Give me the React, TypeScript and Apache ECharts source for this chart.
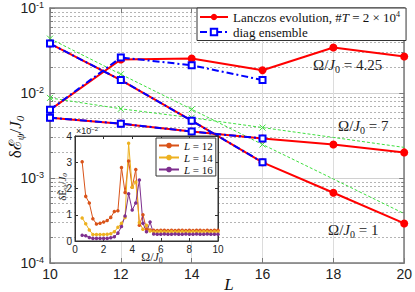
import React, { useEffect, useRef } from 'react';
import * as echarts from 'echarts';

// ---------- main plot data ----------
const sizesL = [10, 12, 14, 16, 18, 20];
const sizesDiag = [10, 12, 14, 16];
const lanczosW425 = [0.00634, 0.0248, 0.0255, 0.0185, 0.0343, 0.0269];
const lanczosW7 = [0.00512, 0.00436, 0.00352, 0.00292, 0.00248, 0.002];
const lanczosW1 = [0.0381, 0.0142, 0.00472, 0.00153, 0.00067, 0.000292];
const diagW425 = [0.00634, 0.0262, 0.0212, 0.0142];
const diagW7 = [0.00512, 0.00436, 0.00352, 0.00292];
const diagW1 = [0.0381, 0.0142, 0.00472, 0.00153];
const fitSteep = [0.0436, 0.0166, 0.00643, 0.00248, 0.000973, 0.000381];
const fitShallow = [0.00875, 0.00652, 0.00512, 0.00392, 0.003, 0.00229];
const fitMarked = [true, true, true, true, false, false];

// ---------- inset data (units of 1e-2) ----------
const omega = [
  0.5, 0.75, 1, 1.25, 1.5, 1.75, 2, 2.25, 2.5, 2.75, 3, 3.25, 3.5, 3.75, 4, 4.25,
  4.5, 4.75, 5, 5.25, 5.5, 5.75, 6, 6.25, 6.5, 6.75, 7, 7.25, 7.5, 7.75, 8, 8.25,
  8.5, 8.75, 9, 9.25, 9.5, 9.75, 10,
];
const insetL12 = [
  3.02, 1.7, 1.45, 0.85, 0.65, 0.68, 0.72, 0.78, 0.9, 1.12, 1.15, 2.8, 1.85, 3.05, 2.05, 2.72,
  0.6, 1.0, 0.45, 0.42, 0.41, 0.4, 0.41, 0.41, 0.4, 0.41, 0.4, 0.41, 0.41, 0.4, 0.41, 0.4,
  0.41, 0.41, 0.4, 0.41, 0.4, 0.41, 0.41,
];
const insetL14 = [
  0.88, 0.66, 0.42, 0.25, 0.25, 0.25, 0.25, 0.26, 0.28, 0.35, 0.52, 0.68, 0.9, 3.72, 2.05, 2.25,
  0.7, 0.45, 0.6, 0.38, 0.35, 0.35, 0.36, 0.35, 0.35, 0.36, 0.35, 0.35, 0.36, 0.35, 0.35, 0.36,
  0.35, 0.35, 0.36, 0.35, 0.35, 0.36, 0.35,
];
const insetL16 = [
  0.22, 0.2, 0.13, 0.1, 0.1, 0.1, 0.1, 0.1, 0.12, 0.16, 0.3, 0.55, 0.95, 1.8, 1.18, 1.45,
  2.32, 0.68, 0.35, 0.72, 0.27, 0.26, 0.26, 0.27, 0.26, 0.26, 0.27, 0.26, 0.26, 0.27, 0.26, 0.26,
  0.27, 0.26, 0.26, 0.27, 0.26, 0.26, 0.26,
];

const LZ = 'Lanczos evolution, #T = 2 × 10^4';
const DG = 'diag ensemble';
const RED = '#ff0000';
const BLUE = '#0000ff';
const GREEN = '#3fe03f';
const C12 = '#d95319';
const C14 = '#edb120';
const C16 = '#7e2f8e';
const AX = '#7a7a7a';
const SERIF = '"Liberation Serif", "DejaVu Serif", serif';
const SANS = '"Liberation Sans", Arial, sans-serif';
const BLUE_DASH = [7, 3, 2, 3];

const pairs = (xs: number[], ys: number[]) => xs.map((x, i) => [x, ys[i]]);

function buildOption(): any {
  const redSeries = (data: number[]) => ({
    type: 'line', name: LZ, xAxisIndex: 0, yAxisIndex: 0, z: 3,
    data: pairs(sizesL, data),
    color: RED, lineStyle: { width: 2, color: RED },
    symbol: 'circle', symbolSize: 8, itemStyle: { color: RED },
  });
  const blueSeries = (data: number[]) => ({
    type: 'line', name: DG, xAxisIndex: 0, yAxisIndex: 0, z: 4,
    data: pairs(sizesDiag, data),
    color: BLUE, lineStyle: { width: 2, color: BLUE, type: BLUE_DASH },
    symbol: 'emptyRect', symbolSize: 6, itemStyle: { color: BLUE, borderColor: BLUE, borderWidth: 1.5 },
  });
  const greenSeries = (data: number[]) => ({
    type: 'line', xAxisIndex: 0, yAxisIndex: 0, z: 2,
    data: sizesL.map((x, i) => ({ value: [x, data[i]], symbol: fitMarked[i] ? 'path://M0,0L10,10M10,0L0,10' : 'none' })),
    lineStyle: { width: 1, color: GREEN, type: [3, 2] },
    symbolSize: 6, itemStyle: { color: 'none', borderColor: GREEN, borderWidth: 1 },
  });
  const insetSeries = (name: string, data: number[], color: string) => ({
    type: 'line', name, xAxisIndex: 2, yAxisIndex: 2, z: 12,
    data: pairs(omega, data),
    color, lineStyle: { width: 1, color },
    symbol: 'circle', symbolSize: 3.5, itemStyle: { color },
  });

  const axisCommon = {
    axisLine: { show: true, onZero: false, lineStyle: { color: AX, width: 1.5 } },
    axisTick: { show: true, inside: true, length: 5, lineStyle: { color: AX } },
  };
  const logMinor = {
    minorTick: { show: true, splitNumber: 9, length: 3, lineStyle: { color: AX } },
  };
  const insetAxis = {
    z: 9,
    axisLine: { show: true, onZero: false, lineStyle: { color: '#333', width: 1 } },
    axisTick: { show: true, inside: true, length: 3, lineStyle: { color: '#333' } },
    splitLine: { show: false },
  };

  return {
    animation: false,
    backgroundColor: '#fff',
    grid: [
      { left: 50, top: 5, width: 358, height: 258, show: false },
      { left: 75, top: 136, width: 143, height: 105, show: true, backgroundColor: '#fff', borderColor: '#333', borderWidth: 1, z: 8 },
    ],
    xAxis: [
      {
        type: 'value', gridIndex: 0, min: 10, max: 20, interval: 2, position: 'bottom', ...axisCommon,
        axisLabel: { color: '#222', fontFamily: SANS, fontSize: 14, margin: 4 },
        splitLine: { show: true, lineStyle: { color: '#dcdcdc', width: 1 } },
      },
      {
        type: 'value', gridIndex: 0, min: 10, max: 20, interval: 2, position: 'top', ...axisCommon,
        axisLabel: { show: false }, splitLine: { show: false },
      },
      {
        type: 'value', gridIndex: 1, min: 0, max: 10, interval: 2, position: 'bottom', ...insetAxis,
        axisLabel: { color: '#222', fontFamily: SANS, fontSize: 10, margin: 3 },
      },
      {
        type: 'value', gridIndex: 1, min: 0, max: 10, interval: 2, position: 'top', ...insetAxis,
        axisLabel: { show: false },
      },
    ],
    yAxis: [
      {
        type: 'log', logBase: 10, gridIndex: 0, min: 0.0001, max: 0.1, position: 'left', ...axisCommon, ...logMinor,
        axisLabel: {
          margin: 6,
          formatter: (v: number) => `{b|10}{e|${Math.round(Math.log10(v))}}`,
          rich: {
            b: { fontFamily: SANS, fontSize: 14, color: '#222', lineHeight: 16 },
            e: { fontFamily: SANS, fontSize: 9, color: '#222', lineHeight: 9, verticalAlign: 'top' },
          },
        },
        splitLine: { show: true, lineStyle: { color: '#d0d0d0', width: 1 } },
        minorSplitLine: { show: true, lineStyle: { color: '#b4b4b4', type: [2, 2], width: 1 } },
      },
      {
        type: 'log', logBase: 10, gridIndex: 0, min: 0.0001, max: 0.1, position: 'right', ...axisCommon, ...logMinor,
        axisLabel: { show: false }, splitLine: { show: false },
      },
      {
        type: 'value', gridIndex: 1, min: 0, max: 4, interval: 1, position: 'left', ...insetAxis,
        axisLabel: { color: '#222', fontFamily: SANS, fontSize: 10, margin: 3 },
      },
      {
        type: 'value', gridIndex: 1, min: 0, max: 4, interval: 1, position: 'right', ...insetAxis,
        axisLabel: { show: false },
      },
    ],
    legend: [
      {
        data: [
          { name: LZ },
          { name: DG, lineStyle: { type: BLUE_DASH, width: 2 } },
        ],
        orient: 'vertical', left: 197, top: 8, z: 6,
        backgroundColor: '#fff', borderColor: '#333', borderWidth: 1, padding: [2, 6, 2, 2],
        itemGap: 2, itemWidth: 28, itemHeight: 8,
        formatter: (n: string) => (n === LZ ? '{n|Lanczos evolution, #}{t|T}{n| = 2 × 10}{s|4}' : `{n|${n}}`),
        textStyle: {
          rich: {
            n: { fontFamily: SERIF, fontSize: 13, color: '#111', lineHeight: 14 },
            t: { fontFamily: SERIF, fontSize: 13, color: '#111', fontStyle: 'italic', lineHeight: 14 },
            s: { fontFamily: SERIF, fontSize: 8, color: '#111', lineHeight: 8, verticalAlign: 'top' },
          },
        },
      },
      {
        data: ['L = 12', 'L = 14', 'L = 16'], orient: 'vertical', left: 156, top: 138, z: 14,
        backgroundColor: '#fff', borderColor: '#333', borderWidth: 1, padding: [2, 3, 1, 2],
        itemGap: 1, itemWidth: 20, itemHeight: 7,
        formatter: (n: string) => `{i|L}{n|${n.slice(1)}}`,
        textStyle: {
          rich: {
            i: { fontFamily: SERIF, fontSize: 11, fontStyle: 'italic', color: '#111', lineHeight: 11 },
            n: { fontFamily: SERIF, fontSize: 11, color: '#111', lineHeight: 11 },
          },
        },
      },
    ],
    series: [
      greenSeries(fitSteep),
      greenSeries(fitShallow),
      redSeries(lanczosW425),
      redSeries(lanczosW7),
      redSeries(lanczosW1),
      blueSeries(diagW425),
      blueSeries(diagW7),
      blueSeries(diagW1),
      insetSeries('L = 12', insetL12, C12),
      insetSeries('L = 14', insetL14, C14),
      insetSeries('L = 16', insetL16, C16),
    ],
    graphic: [
      {
        type: 'text', x: 15, y: 137, rotation: Math.PI / 2, z: 20,
        style: {
          text: '{a|δℰ}{s|ψ}{a|/}{j|J}{s|0}', align: 'center', verticalAlign: 'middle',
          rich: {
            a: { fontFamily: SERIF, fontSize: 17, fill: '#111', lineHeight: 20 },
            j: { fontFamily: SERIF, fontSize: 17, fontStyle: 'italic', fill: '#111', lineHeight: 20 },
            s: { fontFamily: SERIF, fontSize: 11, fontStyle: 'italic', fill: '#111', lineHeight: 12, verticalAlign: 'bottom' },
          },
        },
      },
      {
        type: 'text', x: 229, y: 284, z: 20,
        style: { text: 'L', fontFamily: SERIF, fontSize: 17, fontStyle: 'italic', fill: '#111', align: 'center', verticalAlign: 'middle' },
      },
      ...[
        { x: 313, y: 65, v: '4.25' },
        { x: 338, y: 126, v: '7' },
        { x: 328, y: 230, v: '1' },
      ].map((a) => ({
        type: 'text', x: a.x, y: a.y, z: 20,
        style: {
          text: `{a|Ω/}{j|J}{s|0}{a| = ${a.v}}`, align: 'left', verticalAlign: 'middle',
          rich: {
            a: { fontFamily: SERIF, fontSize: 15, fill: '#222', lineHeight: 18 },
            j: { fontFamily: SERIF, fontSize: 15, fontStyle: 'italic', fill: '#222', lineHeight: 18 },
            s: { fontFamily: SERIF, fontSize: 10, fill: '#222', lineHeight: 11, verticalAlign: 'bottom' },
          },
        },
      })),
      {
        type: 'text', x: 152, y: 257, z: 20,
        style: {
          text: '{a|Ω/}{j|J}{s|0}', align: 'center', verticalAlign: 'middle',
          rich: {
            a: { fontFamily: SERIF, fontSize: 12, fill: '#222', lineHeight: 14 },
            j: { fontFamily: SERIF, fontSize: 12, fontStyle: 'italic', fill: '#222', lineHeight: 14 },
            s: { fontFamily: SERIF, fontSize: 8, fill: '#222', lineHeight: 9, verticalAlign: 'bottom' },
          },
        },
      },
      {
        type: 'text', x: 62, y: 187, rotation: Math.PI / 2, z: 20,
        style: {
          text: '{a|δẼ}{s|ψ}{a|/}{j|J}{s|0}', align: 'center', verticalAlign: 'middle',
          rich: {
            a: { fontFamily: SERIF, fontSize: 11, fill: '#222', lineHeight: 13 },
            j: { fontFamily: SERIF, fontSize: 11, fontStyle: 'italic', fill: '#222', lineHeight: 13 },
            s: { fontFamily: SERIF, fontSize: 7, fontStyle: 'italic', fill: '#222', lineHeight: 8, verticalAlign: 'bottom' },
          },
        },
      },
      {
        type: 'text', x: 76, y: 131, z: 20,
        style: {
          text: '{a|×10}{s|−2}', align: 'left', verticalAlign: 'middle',
          rich: {
            a: { fontFamily: SANS, fontSize: 9, fill: '#222', lineHeight: 10 },
            s: { fontFamily: SANS, fontSize: 6, fill: '#222', lineHeight: 6, verticalAlign: 'top' },
          },
        },
      },
    ],
  };
}

export default function App() {
  const ref = useRef<HTMLDivElement>(null);
  useEffect(() => {
    const chart = echarts.init(ref.current!, null, { renderer: 'svg' });
    chart.setOption(buildOption());
    return () => chart.dispose();
  }, []);
  return <div ref={ref} style={{ position: 'absolute', left: 0, top: 0, width: 415, height: 292 }} />;
}
